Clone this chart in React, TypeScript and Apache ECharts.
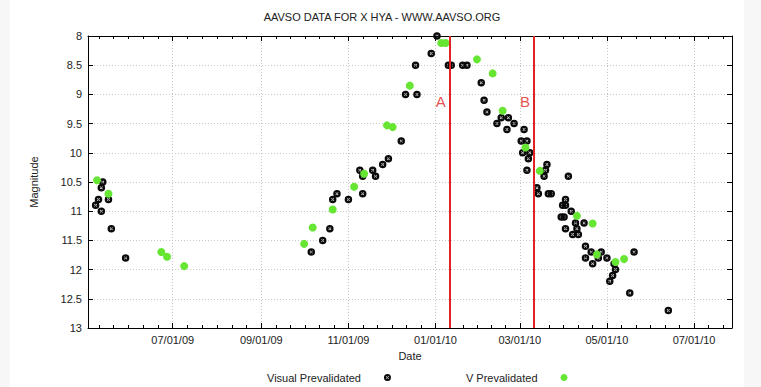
import React, { useEffect, useRef } from 'react';
import * as echarts from 'echarts';

const FONT = '"Liberation Sans", Arial, Helvetica, sans-serif';

const chartTitle = 'AAVSO DATA FOR X HYA - WWW.AAVSO.ORG';
const xAxisName = 'Date';
const yAxisName = 'Magnitude';
const seriesNames = ['Visual Prevalidated', 'V Prevalidated'];

const xRange = ['2009-05-02T16', '2010-07-27T14'];
const tickDates = ['2009-07-01', '2009-09-01', '2009-11-01', '2010-01-01', '2010-03-01', '2010-05-01', '2010-07-01'];
const magRange = [8, 13];
const magStep = 0.5;

const visualDates = [
  '2009-05-08', '2009-05-10', '2009-05-12', '2009-05-12', '2009-05-13', '2009-05-17', '2009-05-19', '2009-05-29',
  '2009-10-06', '2009-10-14', '2009-10-19', '2009-10-21', '2009-10-24', '2009-11-01', '2009-11-09', '2009-11-11',
  '2009-11-11', '2009-11-18', '2009-11-20', '2009-11-25', '2009-11-29', '2009-12-08', '2009-12-11', '2009-12-18',
  '2009-12-19', '2009-12-29', '2010-01-02', '2010-01-10', '2010-01-12', '2010-01-20', '2010-01-23', '2010-02-02',
  '2010-02-04', '2010-02-06', '2010-02-13', '2010-02-16', '2010-02-20', '2010-02-21', '2010-02-25', '2010-03-02',
  '2010-03-03', '2010-03-04', '2010-03-06', '2010-03-06', '2010-03-07', '2010-03-08', '2010-03-13', '2010-03-14',
  '2010-03-18', '2010-03-19', '2010-03-20', '2010-03-21', '2010-03-23', '2010-03-30', '2010-03-31', '2010-04-01',
  '2010-04-02', '2010-04-02', '2010-04-02', '2010-04-04', '2010-04-06', '2010-04-07', '2010-04-09', '2010-04-10',
  '2010-04-11', '2010-04-15', '2010-04-16', '2010-04-16', '2010-04-20', '2010-04-21', '2010-04-25', '2010-04-27',
  '2010-05-01', '2010-05-03', '2010-05-05', '2010-05-06', '2010-05-07', '2010-05-17', '2010-05-20', '2010-06-13',
];
const visualMags = [
  10.9, 10.8, 11.0, 10.6, 10.5, 10.8, 11.3, 11.8,
  11.7, 11.5, 11.3, 10.8, 10.7, 10.8, 10.3, 10.4,
  10.7, 10.3, 10.4, 10.2, 10.1, 9.8, 9.0, 8.5,
  9.0, 8.3, 8.0, 8.5, 8.5, 8.5, 8.5, 8.8,
  9.1, 9.3, 9.5, 9.4, 9.6, 9.4, 9.5, 9.8,
  10.0, 9.6, 9.8, 10.3, 10.1, 10.0, 10.6, 10.7,
  10.4, 10.3, 10.2, 10.7, 10.7, 11.1, 10.9, 11.1,
  10.8, 10.9, 11.3, 10.4, 11.0, 11.4, 11.2, 11.3,
  11.4, 11.2, 11.8, 11.6, 11.7, 11.9, 11.8, 11.7,
  11.8, 12.2, 12.1, 11.9, 12.0, 12.4, 11.7, 12.7,
];

const vDates = [
  '2009-05-09', '2009-05-17', '2009-06-23', '2009-06-27', '2009-07-09', '2009-10-01', '2009-10-07', '2009-10-21',
  '2009-11-05', '2009-11-12', '2009-11-28', '2009-12-02', '2009-12-14', '2010-01-05', '2010-01-08', '2010-01-30',
  '2010-02-10', '2010-02-17', '2010-03-05', '2010-03-15', '2010-04-10', '2010-04-21', '2010-04-24', '2010-05-07',
  '2010-05-13',
];
const vMags = [
  10.47, 10.7, 11.7, 11.78, 11.94, 11.56, 11.28, 10.97,
  10.58, 10.36, 9.53, 9.56, 8.85, 8.12, 8.12, 8.4,
  8.64, 9.28, 9.91, 10.31, 11.08, 11.21, 11.74, 11.87,
  11.82,
];

const eventDates = ['2010-01-11', '2010-03-11'];
const eventLabels = ['A', 'B'];
const eventLabelMag = 9.13;

function toTime(s: string): number {
  const [d, h] = s.split('T');
  const [y, m, dd] = d.split('-').map(Number);
  return Date.UTC(y, m - 1, dd, h ? Number(h) : 0);
}

function fmtDate(v: number): string {
  const d = new Date(v);
  const p = (n: number) => String(n).padStart(2, '0');
  return `${p(d.getUTCMonth() + 1)}/${p(d.getUTCDate())}/${p(d.getUTCFullYear() % 100)}`;
}

const BLACK_SYMBOL =
  'path://M0 5A5 5 0 1 1 10 5A5 5 0 1 1 0 5Z M3 6.4L3.6 7L7 3.6L6.4 3Z M3 3.6L6.4 7L7 6.4L3.6 3Z';

const RED = '#e02424';
const GREEN = '#66e633';

export default function App() {
  const ref = useRef<HTMLDivElement>(null);

  useEffect(() => {
    if (!ref.current) return;
    const chart = echarts.init(ref.current, undefined, { renderer: 'svg' });

    const xMin = toTime(xRange[0]);
    const xMax = toTime(xRange[1]);
    const majors = tickDates.map(toTime);
    const minors: number[] = [];
    for (let i = 0; i < majors.length - 1; i++) {
      const step = (majors[i + 1] - majors[i]) / 6;
      for (let k = 1; k < 6; k++) minors.push(majors[i] + k * step);
    }
    {
      const step = (majors[1] - majors[0]) / 6;
      for (let v = majors[0] - step; v > xMin; v -= step) minors.push(v);
    }
    {
      const n = majors.length;
      const step = (majors[n - 1] - majors[n - 2]) / 6;
      for (let v = majors[n - 1] + step; v < xMax; v += step) minors.push(v);
    }

    const textBase = { fontFamily: FONT, fontSize: 11, color: '#222' };
    const axisLine = { show: true, lineStyle: { color: '#000', width: 1 } };
    const gridLine = { show: true, lineStyle: { color: '#c8c8c8', width: 1, type: [1, 2] as any } };

    const baseX = { type: 'value', min: xMin, max: xMax, gridIndex: 0 };

    chart.setOption({
      animation: false,
      backgroundColor: '#ffffff',
      graphic: [
        {
          type: 'text',
          x: 372,
          y: 17,
          style: {
            text: chartTitle,
            align: 'center',
            verticalAlign: 'middle',
            fontFamily: FONT,
            fontSize: 11,
            fill: '#222',
          },
        },
      ],
      grid: { left: 78, right: 12, top: 36, bottom: 59 },
      legend: {
        data: [
          { name: seriesNames[0], icon: BLACK_SYMBOL },
          { name: seriesNames[1], icon: 'circle' },
        ],
        align: 'right',
        left: 252,
        top: 367,
        itemWidth: 43,
        itemHeight: 7,
        itemGap: 75,
        selectedMode: false,
        textStyle: { ...textBase },
      },
      xAxis: [
        {
          ...baseX,
          position: 'bottom',
          name: xAxisName,
          nameLocation: 'middle',
          nameGap: 22,
          nameTextStyle: { ...textBase },
          axisLine,
          axisTick: { show: true, inside: true, length: 5, customValues: majors, lineStyle: { color: '#000' } },
          axisLabel: { show: true, customValues: majors, formatter: (v: number) => fmtDate(v), margin: 6, ...textBase },
          splitLine: gridLine,
        },
        {
          ...baseX,
          position: 'bottom',
          axisLine: { show: false },
          axisTick: { show: true, inside: true, length: 3, customValues: minors, lineStyle: { color: '#000' } },
          axisLabel: { show: false },
          splitLine: { show: false },
        },
        {
          ...baseX,
          position: 'top',
          axisLine,
          axisTick: { show: true, inside: true, length: 5, customValues: majors, lineStyle: { color: '#000' } },
          axisLabel: { show: false },
          splitLine: { show: false },
        },
        {
          ...baseX,
          position: 'top',
          axisLine: { show: false },
          axisTick: { show: true, inside: true, length: 3, customValues: minors, lineStyle: { color: '#000' } },
          axisLabel: { show: false },
          splitLine: { show: false },
        },
      ],
      yAxis: [
        {
          type: 'value',
          position: 'left',
          min: magRange[0],
          max: magRange[1],
          interval: magStep,
          inverse: true,
          name: yAxisName,
          nameLocation: 'middle',
          nameRotate: 90,
          nameGap: 49,
          nameTextStyle: { ...textBase },
          axisLine,
          axisTick: { show: true, inside: true, length: 5, lineStyle: { color: '#000' } },
          axisLabel: { show: true, margin: 6, ...textBase },
          splitLine: gridLine,
        },
        {
          type: 'value',
          position: 'right',
          min: magRange[0],
          max: magRange[1],
          interval: magStep,
          inverse: true,
          axisLine,
          axisTick: { show: true, inside: true, length: 5, lineStyle: { color: '#000' } },
          axisLabel: { show: false },
          splitLine: { show: false },
        },
      ],
      series: [
        {
          type: 'scatter',
          name: 'events',
          xAxisIndex: 0,
          yAxisIndex: 0,
          silent: true,
          symbol: 'circle',
          symbolSize: 0,
          data: eventDates.map((d) => [toTime(d), eventLabelMag]),
          label: {
            show: true,
            position: 'left',
            distance: 4,
            formatter: (p: any) => eventLabels[p.dataIndex],
            color: RED,
            fontSize: 15,
            fontFamily: FONT,
          },
          markLine: {
            silent: true,
            symbol: 'none',
            label: { show: false },
            lineStyle: { color: RED, width: 2, type: 'solid' },
            data: eventDates.map((d) => ({ xAxis: toTime(d) })),
          },
          z: 2,
        },
        {
          type: 'scatter',
          name: seriesNames[0],
          xAxisIndex: 0,
          yAxisIndex: 0,
          symbol: BLACK_SYMBOL,
          symbolSize: 7.5,
          itemStyle: { color: '#0a0a0a', opacity: 1 },
          data: visualDates.map((d, i) => [toTime(d), visualMags[i]]),
          z: 3,
        },
        {
          type: 'scatter',
          name: seriesNames[1],
          xAxisIndex: 0,
          yAxisIndex: 0,
          symbol: 'circle',
          symbolSize: 8,
          itemStyle: { color: GREEN, opacity: 1 },
          data: vDates.map((d, i) => [toTime(d), vMags[i]]),
          z: 4,
        },
      ],
    });

    return () => chart.dispose();
  }, []);

  return (
    <div
      style={{
        position: 'fixed',
        left: 0,
        top: 0,
        width: 761,
        height: 387,
        background: '#f7f7f7',
      }}
    >
      <div ref={ref} style={{ position: 'absolute', left: 10, top: 0, width: 734, height: 387 }} />
    </div>
  );
}
